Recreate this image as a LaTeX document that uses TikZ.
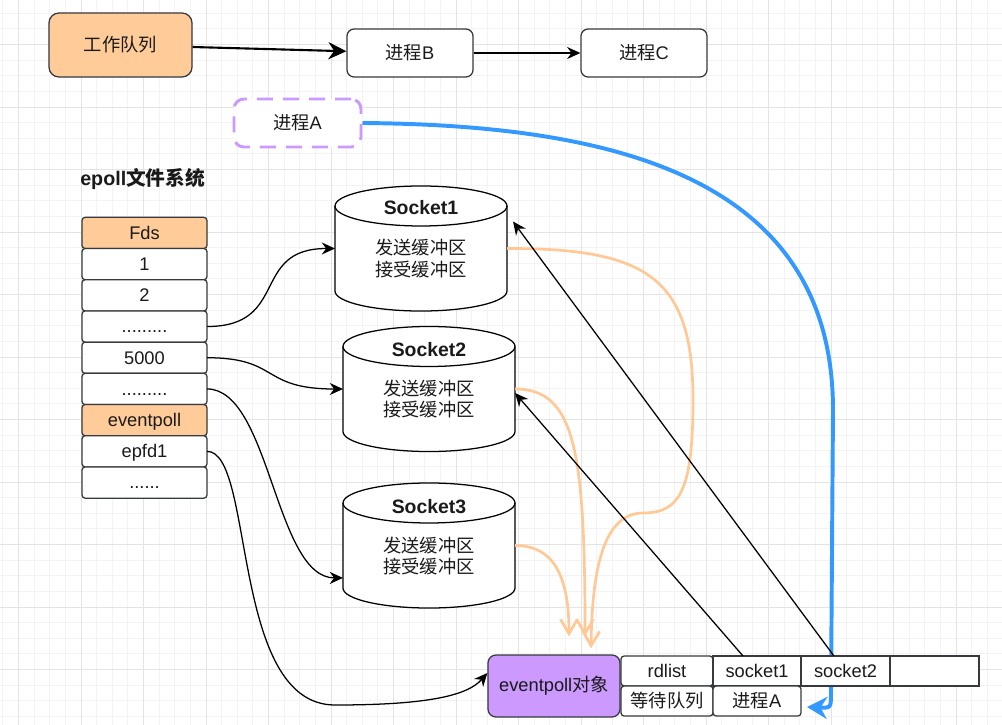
\documentclass[tikz,border=0pt]{standalone}
\usepackage{fontspec}
\setmainfont{Liberation Sans}
\newfontfamily\cjk{Noto Sans CJK SC}
\usepackage{tikz}
\usetikzlibrary{arrows.meta,positioning,calc,backgrounds}

\definecolor{boxline}{HTML}{36393D}
\definecolor{peach}{HTML}{FFCC99}
\definecolor{lilac}{HTML}{CC99FF}
\definecolor{skyblue}{HTML}{3399FF}
\definecolor{softorange}{HTML}{FFC894}
\definecolor{gridminor}{HTML}{F3F3F3}
\definecolor{gridmajor}{HTML}{E4E4E4}
\definecolor{inkcol}{HTML}{1A1A1A}

\newcommand{\zh}[1]{{\cjk #1}}
% cylinder outline round an (invisible) node
\newcommand{\drum}[1]{%
  \draw[drumline, fill=white] ($(#1.north west)+(0,20)$) -- ($(#1.south west)+(0,-20)$)
    arc[start angle=180, end angle=0, x radius=86, y radius=20]
    -- ($(#1.north east)+(0,20)$)
    arc[start angle=0, end angle=-180, x radius=86, y radius=20] -- cycle;
  \draw[drumline] ($(#1.north west)+(0,20)$)
    arc[start angle=180, end angle=0, x radius=86, y radius=20];
}

\begin{document}
\begin{tikzpicture}[
    x=0.025cm, y=-0.025cm,
    font=\fontsize{13}{15}\selectfont,
    text=inkcol,
    proc/.style={
      rectangle,
      draw=boxline,
      line width=0.9pt,
      fill=white,
      rounded corners=0.18cm,
      minimum width=3.15cm,
      minimum height=1.2cm
    },
    fdcell/.style={
      rectangle,
      draw=boxline,
      line width=0.9pt,
      fill=white,
      rounded corners=0.08cm,
      minimum width=3.125cm,
      minimum height=0.78cm,
      text height=1em,
      text depth=0.1em,
      inner sep=0pt,
      outer sep=0pt
    },
    fdhead/.style={fdcell, fill=peach},
    cell/.style={
      rectangle,
      draw=boxline,
      line width=0.9pt,
      fill=white,
      minimum height=0.75cm,
      inner sep=0pt,
      outer sep=0pt
    },
    drumbox/.style={rectangle, minimum width=4.3cm, minimum height=3.125cm, inner sep=0pt, outer sep=0pt},
    drumline/.style={draw=black, line width=0.9pt},
    drumhead/.style={font=\fontsize{13.8}{16}\selectfont\bfseries},
    drumtext/.style={align=center},
    gridthin/.style={draw=gridminor, line width=0.7pt},
    gridthick/.style={draw=gridmajor, line width=0.7pt},
    line/.style={draw=black, line width=0.9pt, -{Stealth[length=3.3mm, width=3mm]}},
    heavy/.style={draw=black, line width=1.5pt, -{Stealth[length=4.5mm, width=4.3mm]}},
    ready/.style={draw=softorange, line width=1.9pt, -{Straight Barb[length=3.6mm, width=4.2mm]}},
    waker/.style={draw=skyblue, line width=2.8pt, -{Stealth[length=5mm, width=5.5mm]}},
]
    \useasboundingbox (0,0) rectangle (1002,725);

    % run queue
    \node [proc, fill=peach, rounded corners=0.25cm, minimum width=3.575cm, minimum height=1.6cm] (queue) at (120.5,45) {\zh{工作队列}};
    \node [proc] (procB) at (410,53) {\zh{进程}B};
    \node [proc] (procC) at (644,53) {\zh{进程}C};
    \node [proc, draw=lilac, line width=2.1pt, dash pattern=on 0.4cm off 0.25cm, rounded corners=0.25cm, minimum width=3.175cm] (procA) at (297.5,123) {\zh{进程}A};

    % fd table
    \node [anchor=west, inner sep=0pt, font=\fontsize{14}{16}\selectfont\bfseries] (fstitle) at (80,178.5) {epoll\zh{文件系统}};
    \node [fdhead] (fds) at (144.5,232.9) {Fds};
    \node [fdcell, below=0pt of fds] (fd1) {1};
    \node [fdcell, below=0pt of fd1] (fd2) {2};
    \node [fdcell, below=0pt of fd2] (fddots) {.........};
    \node [fdcell, below=0pt of fddots] (fd5000) {5000};
    \node [fdcell, below=0pt of fd5000] (fddotsb) {.........};
    \node [fdhead, below=0pt of fddotsb] (evp) {eventpoll};
    \node [fdcell, below=0pt of evp] (epfd) {epfd1};
    \node [fdcell, below=0pt of epfd] (fdend) {......};

    % sockets
    \node [drumbox] (s1) at (421,248.5) {};
    \drum{s1}
    \node [drumhead] (s1h) at ([yshift=-0.55cm]s1.north) {Socket1};
    \node [drumtext] (s1b) at ([yshift=-0.25cm]s1.center) {\zh{发送缓冲区}\\\zh{接受缓冲区}};

    \node [drumbox] (s2) at (429,389) {};
    \drum{s2}
    \node [drumhead] (s2h) at ([yshift=-0.575cm]s2.north) {Socket2};
    \node [drumtext] (s2b) at ([yshift=-0.25cm]s2.center) {\zh{发送缓冲区}\\\zh{接受缓冲区}};

    \node [drumbox] (s3) at (429,545.5) {};
    \drum{s3}
    \node [drumhead] (s3h) at ([yshift=-0.6cm]s3.north) {Socket3};
    \node [drumtext] (s3b) at ([yshift=-0.26cm]s3.center) {\zh{发送缓冲区}\\\zh{接受缓冲区}};

    % eventpoll object
    \node [proc, fill=lilac, rounded corners=0.2cm, minimum width=3.3cm, minimum height=1.55cm] (evobj) at (554,686) {eventpoll\zh{对象}};
    \node [cell, rounded corners=0.08cm, minimum width=2.3cm] (rdl) at (667,671) {rdlist};
    \node [cell, rounded corners=0.08cm, minimum width=2.3cm, below=0pt of rdl] (waitq) {\zh{等待队列}};
    \node [cell, minimum width=2.2cm, right=0pt of rdl] (cs1) {socket1};
    \node [cell, minimum width=2.225cm, right=0pt of cs1] (cs2) {socket2};
    \node [cell, minimum width=2.225cm, right=0pt of cs2] (cfree) {};
    \node [cell, rounded corners=0.08cm, minimum width=2.2cm, below=0pt of cs1] (cpa) {\zh{进程}A};

    % background grid and the wake-up path, behind the boxes
    \begin{pgfonlayer}{background}
      \fill[white] (0,0) rectangle (1002,725);
      \foreach \gx in {2.875,18.5,...,1002} { \draw[gridthin] (\gx,0) -- (\gx,725); }
      \foreach \gy in {13.25,28.875,...,725} { \draw[gridthin] (0,\gy) -- (1002,\gy); }
      \foreach \gx in {18.5,81,...,1002} { \draw[gridthick] (\gx,0) -- (\gx,725); }
      \foreach \gy in {44.5,107,...,725} { \draw[gridthick] (0,\gy) -- (1002,\gy); }
      \path [waker] (procA.east) .. controls (620,125) and (833,180) .. (833,410)
          -- (831,692) .. controls (831,708) .. ([shift={(6,6)}]cpa.east);
    \end{pgfonlayer}

    % connectors
    \path [heavy] (queue) -- (procB);
    \path [line] (procB) -- (procC);
    \path [line] (fddots.east) .. controls (290,326.5) and (250,248.5) .. (s1.west);
    \path [line] (fd5000.east) .. controls (280,357.7) and (260,389) .. (s2.west);
    \path [line] (fddotsb.east) .. controls (270,389) and (275,578) .. ([yshift=-0.81cm]s3.west);
    \path [line] (epfd.east) .. controls (255,451.3) and (230,705) .. (335,705)
        .. controls (430,705) and (468,695) .. ([shift={(0,-13)}]evobj.west);
    \path [ready] (s1.east) .. controls (650,248) and (693,280) .. (693,400)
        .. controls (693,490) and (680,513) .. (643,513)
        .. controls (600,513) and (592,580) .. ([shift={(37,-6)}]evobj.north);
    \path [ready] (s2.east) .. controls (575,389) and (585,450) .. ([shift={(31,-18)}]evobj.north);
    \path [ready] (s3.east) .. controls (550,545.5) and (569,570) .. ([shift={(15,-18)}]evobj.north);
    \path [line] ([xshift=-0.29cm]cs2.north) -- ([shift={(6,-27)}]s1.east);
    \path [line] ([xshift=-0.35cm]cs1.north) -- ([shift={(0,4)}]s2.east);

\end{tikzpicture}
\end{document}
